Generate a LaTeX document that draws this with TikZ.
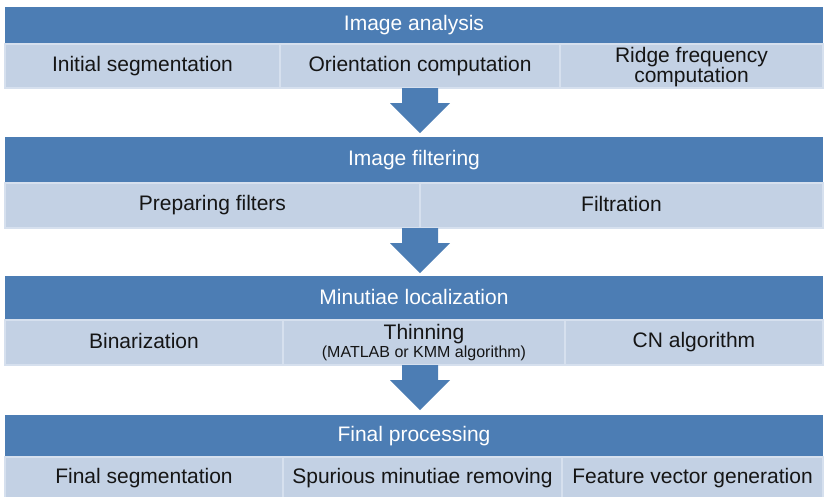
\documentclass[tikz,border=0pt]{standalone}
\usepackage{fontspec}
\setmainfont{Liberation Sans}
\usetikzlibrary{calc}
\definecolor{hdrblue}{HTML}{4C7DB4}
\definecolor{cellblue}{HTML}{C3D1E4}
\definecolor{celledge}{HTML}{D6E0EE}
\definecolor{txt}{HTML}{151515}
\newcommand\smalltxt{\fontsize{16}{18}\selectfont}
\newcommand\mystrut{\rule[-2.5pt]{0pt}{17.5pt}}
\tikzset{
  hdr/.style={rectangle, anchor=north west, fill=hdrblue, inner sep=0pt, outer sep=0pt,
    minimum width=818pt, text=white, font=\fontsize{21}{24}\selectfont},
  cell/.style={rectangle, anchor=north west, fill=cellblue, draw=celledge, line width=1.5pt,
    inner sep=0pt, outer sep=0pt, text=txt, align=center, font=\fontsize{21}{21}\selectfont}
}
\newcommand\blockarrow[2]{%
  \fill[hdrblue] let \p1=(#1), \p2=(#2), \n1={\y2+30pt} in
    (\x1-18pt,\y1) -- (\x1+18pt,\y1) -- (\x1+18pt,\n1) -- (\x1+30pt,\n1) --
    (\x2,\y2) -- (\x1-30pt,\n1) -- (\x1-18pt,\n1) -- cycle;}
\begin{document}
\begin{tikzpicture}[x=1pt,y=-1pt]
\useasboundingbox (0,0) rectangle (825,496);
% stage 1
\node[hdr, minimum height=37pt] (h1) at (5,7) {\mystrut Image analysis};
\node[cell, minimum width=275pt, minimum height=44pt] (c11) at (5,44) {\mystrut Initial segmentation};
\node[cell, minimum width=280pt, minimum height=44pt] (c12) at (280,44) {\mystrut Orientation computation};
\node[cell, minimum width=263pt, minimum height=44pt] (c13) at (560,44) {};
\node[text=txt, align=center, font=\fontsize{21}{21}\selectfont, inner sep=0pt] (c13t) at ($(c13.center)+(0,1.5)$) {Ridge frequency\\[-1pt]computation};
% stage 2
\node[hdr, minimum height=46pt] (h2) at (5,137) {\mystrut Image filtering};
\node[cell, minimum width=415pt, minimum height=45pt] (c21) at (5,183) {\mystrut Preparing filters};
\node[cell, minimum width=403pt, minimum height=45pt] (c22) at (420,183) {\mystrut Filtration};
% stage 3
\node[hdr, minimum height=44pt] (h3) at (5,276) {\mystrut Minutiae localization};
\node[cell, minimum width=278pt, minimum height=45pt] (c31) at (5,320) {\mystrut Binarization};
\node[cell, minimum width=282pt, minimum height=45pt] (c32) at (283,320) {Thinning\\[-3pt]{\smalltxt (MATLAB or KMM algorithm)}};
\node[cell, minimum width=258pt, minimum height=45pt] (c33) at (565,320) {\mystrut CN algorithm};
% stage 4
\node[hdr, minimum height=42pt] (h4) at (5,415) {\mystrut Final processing};
\node[cell, minimum width=278pt, minimum height=42pt] (c41) at (5,457) {\mystrut Final segmentation};
\node[cell, minimum width=279pt, minimum height=42pt] (c42) at (283,457) {\mystrut Spurious minutiae removing};
\node[cell, minimum width=261pt, minimum height=42pt] (c43) at (562,457) {\mystrut Feature vector generation};
% arrows
\coordinate (ax) at (420,0);
\coordinate (a1s) at (c12.south -| ax);
\coordinate (a1e) at ($(h2.north -| ax)+(0,-4)$);
\coordinate (a2s) at (c21.south -| ax);
\coordinate (a2e) at ($(h3.north -| ax)+(0,-3)$);
\coordinate (a3s) at (c32.south -| ax);
\coordinate (a3e) at ($(h4.north -| ax)+(0,-5)$);
\blockarrow{a1s}{a1e}
\blockarrow{a2s}{a2e}
\blockarrow{a3s}{a3e}
\end{tikzpicture}
\end{document}
